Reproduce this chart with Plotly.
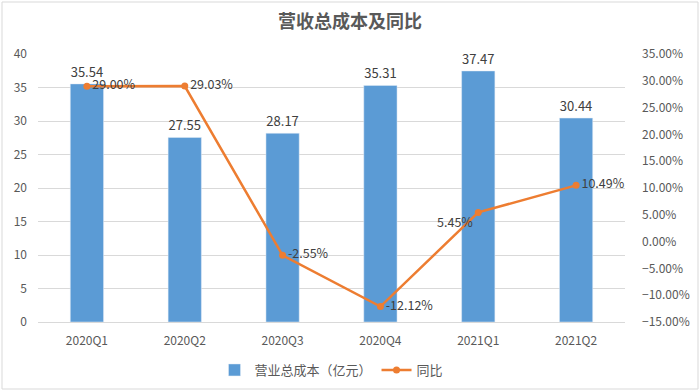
import plotly.graph_objects as go
from plotly.subplots import make_subplots

categories = ["2020Q1", "2020Q2", "2020Q3", "2020Q4", "2021Q1", "2021Q2"]
cost_values = [35.54, 27.55, 28.17, 35.31, 37.47, 30.44]
yoy_values = [29.00, 29.03, -2.55, -12.12, 5.45, 10.49]
yoy_text_pos = ["middle right", "middle right", "middle right", "middle right", "bottom left", "middle right"]

font_family = "Noto Sans CJK SC, Noto Sans, sans-serif"
txt = "#595959"

fig = make_subplots(specs=[[{"secondary_y": True}]])

fig.add_trace(go.Bar(
    x=categories, y=cost_values, name="营业总成本（亿元）",
    marker_color="#5B9BD5", width=0.34,
    text=[f"{v:.2f}" for v in cost_values], textposition="outside",
    textfont=dict(size=13, color="#404040"), cliponaxis=False,
), secondary_y=False)

fig.add_trace(go.Scatter(
    x=categories, y=yoy_values, name="同比", mode="lines+markers+text",
    line=dict(color="#ED7D31", width=2.5), marker=dict(size=7, color="#ED7D31"),
    text=[f"{v:.2f}%" for v in yoy_values], textposition=yoy_text_pos,
    textfont=dict(size=12.5, color="#404040"), cliponaxis=False,
), secondary_y=True)

pw = 700 - 38 - 75
ph = 322 - 54

fig.update_layout(
    width=700, height=391,
    margin=dict(l=38, r=75, t=54, b=69, autoexpand=False),
    paper_bgcolor="white", plot_bgcolor="white",
    font=dict(family=font_family, size=12, color=txt),
    title=dict(text="<b>营收总成本及同比</b>", x=0.5, xanchor="center", y=0.945, yanchor="middle",
               font=dict(size=18, color=txt, family=font_family)),
    legend=dict(orientation="h", x=0.5, xanchor="center", y=-48/ph, yanchor="middle",
                font=dict(size=13, color=txt), traceorder="normal"),
    bargap=0.66,
    shapes=[dict(type="rect", xref="paper", yref="paper",
                 x0=-36/pw, x1=1+73/pw, y0=-67/ph, y1=1+52/ph,
                 line=dict(color="#D9D9D9", width=1))],
)

fig.update_xaxes(domain=[0, 1], showgrid=False, showline=True, linecolor="#D9D9D9", ticks="",
                 automargin=False, ticklabelstandoff=8, tickfont=dict(size=12, color=txt))
fig.update_yaxes(range=[0, 40], dtick=5, showgrid=True, gridcolor="#D9D9D9",
                 zeroline=False, tickfont=dict(size=12, color=txt), ticks="",
                 ticklabelstandoff=10, automargin=False, secondary_y=False)
fig.update_yaxes(range=[-15, 35], dtick=5, showgrid=False, zeroline=False,
                 tickformat=".2f", ticksuffix="%", tickfont=dict(size=12, color=txt),
                 ticks="", ticklabelstandoff=16, automargin=False, secondary_y=True)

fig.write_html("out.html", config={"displayModeBar": False},
               post_script="document.body.style.margin='0';document.body.style.overflow='hidden';")
